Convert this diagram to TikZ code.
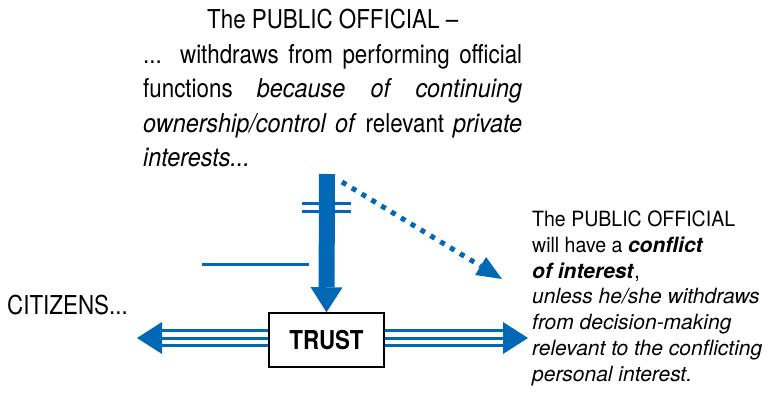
\documentclass[tikz,border=0pt]{standalone}
\usepackage{fontspec}
\setmainfont{TeX Gyre Heros}[FakeStretch=0.86,ItalicFeatures={FakeStretch=0.9}]
\newfontfamily\sidefont{TeX Gyre Heros}[FakeStretch=0.93,ItalicFeatures={FakeStretch=1.0},BoldItalicFeatures={FakeStretch=1.0}]
\usetikzlibrary{arrows.meta}
\usetikzlibrary{positioning}
\definecolor{oblue}{RGB}{0,104,180}
\tikzset{
  bluebar/.style={draw=oblue,line width=3pt},
  trustbox/.style={draw=black,line width=1.5pt,fill=white,minimum width=115pt,minimum height=54pt,inner sep=0pt,font=\fontsize{26}{30}\selectfont\bfseries},
  bighead/.style={-{Triangle[width=32pt,length=25pt,line width=0pt]}},
}

\begin{document}
\begin{tikzpicture}[x=1pt,y=-1pt]
\useasboundingbox (0,0) rectangle (774,393);

\node[anchor=north west,inner sep=0pt,text width=379pt,align=justify,font=\fontsize{26}{34.5}\selectfont] (official) at (143,9) {\noindent\hfil The PUBLIC OFFICIAL --\hfil\null\linebreak ... withdraws from performing official\linebreak functions \textit{because of continuing}\linebreak \textit{ownership/control of} relevant \textit{private}\linebreak \textit{interests...}};
\node[anchor=north west,inner sep=0pt,align=left,font=\sidefont\fontsize{21}{25.7}\selectfont] (conflict) at (532,211) {The PUBLIC OFFICIAL\\ will have a \textbf{\textit{conflict}}\\ \textbf{\textit{of interest}},\\ \textit{unless he/she withdraws}\\ \textit{from decision-making}\\ \textit{relevant to the conflicting}\\ \textit{personal interest.}};
\node[anchor=base west,inner sep=0pt,font=\fontsize{26}{30}\selectfont] (citizens) at (7,314) {CITIZENS...};

\coordinate (src) at (327,174);
\coordinate (dstart) at (342,182);
\coordinate (dtip) at (502,279);
\coordinate (ltip) at (137,338);
\coordinate (rtip) at (528,338);
\node[trustbox] (trust) at (326.5,340) {TRUST};

% main arrow down to the trust
\draw[bighead,oblue,line width=16pt] (src) -- (trust.north);
\foreach \y in {203,211} \draw[bluebar] (302,\y) -- (351,\y);
\draw[bluebar] (202,264) -- (309,264);

% dotted arrow to the conflict
\draw[oblue,line width=5pt,dash pattern=on 5pt off 6.5pt,-{Triangle[width=21pt,length=25pt,line width=0pt]}] (dstart) -- (dtip);

% triple arrows
\draw[bighead,oblue,line width=3pt] (trust.west |- ltip) -- (ltip);
\draw[bighead,oblue,line width=3pt] (trust.east |- rtip) -- (rtip);
\foreach \d in {-7.5,7.5} {
  \draw[bluebar] ([yshift=\d pt]trust.west |- ltip) -- ([yshift=\d pt,xshift=24pt]ltip);
  \draw[bluebar] ([yshift=\d pt]trust.east |- rtip) -- ([yshift=\d pt,xshift=-24pt]rtip);
}

\end{tikzpicture}
\end{document}
